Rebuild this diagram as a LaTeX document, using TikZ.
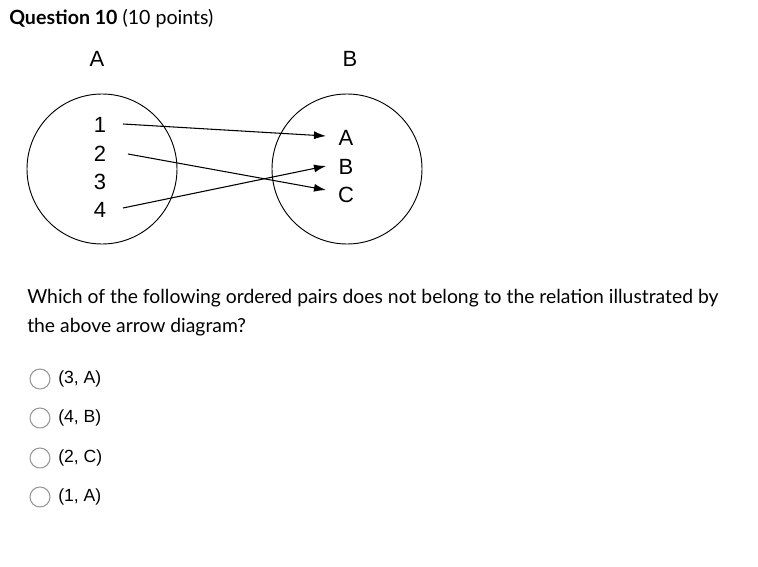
\documentclass[tikz,border=0pt]{standalone}
\usepackage{fontspec}
\setmainfont{Lato}
\newfontfamily\arialf{Liberation Sans}
\usetikzlibrary{arrows.meta}
\begin{document}
\begin{tikzpicture}[x=0.75pt,y=-0.75pt,
  setcirc/.style={draw,line width=0.7pt,circle,minimum size=112.5pt,inner sep=0pt},
  lbl/.style={font=\arialf\fontsize{16.5}{18}\selectfont,inner sep=0pt},
  arr/.style={line width=0.8pt,-{Latex[length=9pt,width=6pt]}},
  qtext/.style={font=\fontsize{14.5}{17}\selectfont,anchor=base west,inner sep=0pt},
  opt/.style={font=\arialf\fontsize{13.2}{15}\selectfont,anchor=west,inner sep=0pt},
  radio/.style={draw=gray!80,line width=0.8pt,circle,minimum size=15pt,inner sep=0pt}]
\useasboundingbox[fill=white] (0,0) rectangle (758,567);
% title
\node[qtext] (title) at (9,25) {\fontsize{14.7}{17}\selectfont\textbf{Question 10} (10 points)};
% headers
\node[lbl] (hA) at (97,59) {A};
\node[lbl] (hB) at (350,59) {B};
% circles
\node[setcirc] (cL) at (102,169) {};
\node[setcirc] (cR) at (347,169) {};
% left labels
\node[lbl] (n1) at (100,125) {1};
\node[lbl] (n2) at (100,154) {2};
\node[lbl] (n3) at (100,182) {3};
\node[lbl] (n4) at (100,210) {4};
% right labels
\node[lbl] (mA) at (346,138) {A};
\node[lbl] (mB) at (346,167) {B};
\node[lbl] (mC) at (346,195) {C};
% arrow anchors
\coordinate (s1) at (123,124);
\coordinate (s2) at (128,154);
\coordinate (s4) at (123,208);
\coordinate (eA) at (326,136);
\coordinate (eB) at (326,166);
\coordinate (eC) at (326,190);
\draw[arr] (s1) -- (eA);
\draw[arr] (s2) -- (eC);
\draw[arr] (s4) -- (eB);
% question
\node[qtext] (q1) at (27,303) {Which of the following ordered pairs does not belong to the relation illustrated by};
\node[qtext] (q2) at (27,332) {the above arrow diagram?};
% options
\node[radio] (r1) at (40,379) {};
\node[radio] (r2) at (40,418) {};
\node[radio] (r3) at (40,458) {};
\node[radio] (r4) at (40,497) {};
\node[opt] (o1) at (58,379) {(3, A)};
\node[opt] (o2) at (58,418) {(4, B)};
\node[opt] (o3) at (58,458) {(2, C)};
\node[opt] (o4) at (58,497) {(1, A)};
\end{tikzpicture}
\end{document}
